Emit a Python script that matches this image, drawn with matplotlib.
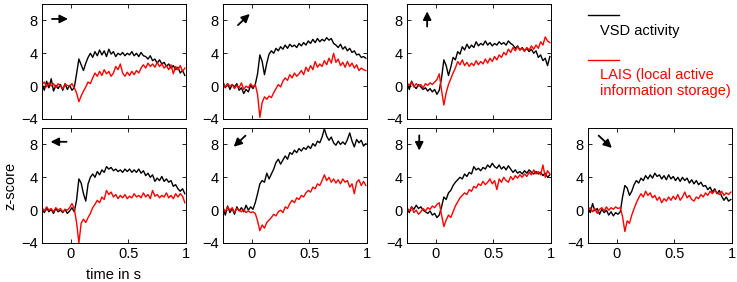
import matplotlib
matplotlib.use('Agg')
import matplotlib.pyplot as plt
import numpy as np

plt.rcParams['font.family'] = ['Liberation Sans', 'DejaVu Sans']
plt.rcParams['font.size'] = 10.5

# time grid in s, one sample every 20 ms
time_s = np.round(np.arange(-0.25, 1.0, 0.02), 2)

# z-scores per direction: VSD activity (black) and LAIS (red)
vsd_right = [0.3, -0.5, 0.6, -0.2, 0.9, -0.6, 0.1, -0.3, 0.2, -0.5, 0.3, -0.4, 0.1, -0.5, -0.2,
             1.5, 3.3, 2.6, 1.9, 2.8, 3.5, 4.0, 3.5, 4.2, 3.7, 4.4, 3.8, 4.3, 3.6, 4.5, 3.9, 4.2,
             3.6, 4.0, 3.8, 4.1, 3.7, 4.0, 3.8, 4.2, 3.7, 4.0, 3.6, 4.1, 3.7, 3.6, 3.3, 3.7,
             3.1, 3.3, 2.8, 3.2, 2.7, 2.9, 2.4, 2.7, 2.2, 2.5, 2.0, 2.3, 1.6, 1.9, 1.3]
lais_right = [0.2, 0.5, -0.1, 0.4, 0.0, 0.3, -0.2, 0.3, 0.0, -0.3, 0.2, 0.1, 0.0, 0.3, -0.2,
              -0.8, -1.9, -1.2, -0.6, -0.1, 0.5, 0.3, 1.0, 1.6, 1.2, 1.8, 1.3, 2.0, 1.5, 1.8, 1.2, 1.6,
              2.4, 2.0, 2.7, 1.6, 1.2, 1.7, 1.3, 1.8, 1.4, 1.9, 1.6, 2.2, 2.6, 2.2, 2.8, 2.4,
              2.7, 2.3, 2.9, 2.4, 2.7, 2.2, 2.5, 2.0, 2.6, 1.5, 2.4, 2.0, 2.5, 1.8, 2.2]

vsd_upright = [0.5, -0.2, 0.3, -0.4, 0.2, -0.1, 0.3, -0.5, -0.2, -0.9, -0.4, -0.7, 0.1, -0.3, 0.2,
               1.5, 3.8, 3.0, 1.4, 2.8, 3.9, 4.3, 4.0, 4.6, 4.3, 4.8, 4.5, 5.0, 4.6, 5.1, 4.8, 5.0,
               4.7, 5.2, 4.9, 5.3, 5.0, 5.5, 5.2, 5.7, 5.3, 5.8, 5.4, 5.7, 5.5, 5.9, 5.6, 5.8,
               5.2, 5.0, 4.7, 5.1, 4.5, 4.8, 4.3, 4.6, 4.1, 4.3, 3.8, 3.9, 3.5, 3.6, 3.4]
lais_upright = [0.2, -0.1, 0.3, 0.0, 0.2, -0.3, 0.1, -0.2, 0.4, -0.4, 0.0, -0.2, 0.3, -0.1, 0.2,
                -1.0, -3.8, -2.0, -1.3, -1.6, -1.2, -1.4, -0.8, -0.3, 0.2, -0.1, 0.6, 1.0, 0.7, 1.4, 1.0, 1.6,
                1.2, 1.5, 1.9, 1.4, 2.3, 1.8, 2.5, 2.0, 3.0, 2.3, 2.7, 2.4, 3.1, 2.6, 3.4, 2.8,
                4.0, 2.9, 3.3, 2.5, 2.9, 2.3, 3.0, 2.4, 2.8, 2.2, 2.6, 1.9, 2.2, 2.0, 1.9]

vsd_up = [0.3, -0.4, 0.6, 0.0, -0.3, 0.2, -0.1, -0.4, -0.2, -0.6, -0.3, -0.7, -0.4, -1.0, -0.5,
          1.0, 3.2, 2.5, 1.3, 2.3, 3.5, 3.2, 4.2, 3.9, 4.8, 4.4, 5.1, 4.6, 5.0, 4.7, 5.4, 4.9,
          5.2, 5.0, 5.5, 5.0, 5.3, 4.9, 5.2, 5.0, 5.4, 5.1, 5.3, 5.0, 5.5, 5.2, 5.0, 4.6,
          4.9, 4.4, 4.7, 4.3, 4.6, 4.2, 4.5, 4.0, 4.3, 3.5, 3.8, 3.1, 3.4, 2.5, 3.6]
lais_up = [0.4, 0.1, 0.5, -0.1, 0.3, 0.0, 0.2, -0.2, 0.3, 0.1, 0.4, 0.2, 0.5, 0.8, 1.5,
           -0.5, -2.3, -0.8, 0.2, 0.9, 1.6, 2.2, 3.0, 2.6, 3.2, 2.5, 2.9, 2.4, 2.8, 2.5, 3.1, 2.6,
           3.0, 2.7, 3.3, 2.8, 3.4, 3.0, 3.6, 3.2, 3.8, 3.5, 4.1, 3.8, 4.5, 4.1, 4.7, 4.3,
           4.8, 4.4, 4.6, 4.2, 4.7, 4.4, 4.9, 4.5, 5.0, 4.6, 5.4, 5.0, 6.0, 5.5, 5.3]

vsd_left = [0.2, -0.3, 0.3, -0.2, 0.1, -0.4, 0.2, -0.2, 0.0, -0.3, 0.1, -0.4, -0.1, 0.3, -0.2,
            1.2, 3.8, 3.3, 2.0, 1.1, 3.2, 4.0, 4.4, 4.0, 4.7, 4.3, 4.9, 4.6, 5.3, 5.0, 5.2, 4.8,
            5.0, 4.7, 4.9, 4.6, 5.0, 4.7, 5.0, 4.6, 4.9, 4.6, 5.0, 4.5, 4.8, 4.2, 4.5, 4.0,
            4.3, 3.5, 3.9, 3.6, 4.1, 3.5, 3.8, 3.4, 3.6, 2.9, 3.1, 2.6, 2.3, 2.6, 2.0]
lais_left = [0.3, -0.1, 0.4, 0.0, 0.2, -0.2, 0.3, 0.0, 0.2, -0.2, 0.1, 0.0, 0.3, 0.8, 0.2,
             -1.5, -4.0, -1.6, -1.1, -1.5, -0.9, -0.4, 0.3, 0.7, 1.2, 0.9, 1.6, 1.3, 2.4, 1.9, 2.2, 1.6,
             1.9, 1.4, 1.8, 1.5, 1.9, 1.4, 1.7, 1.5, 2.0, 1.6, 1.8, 1.5, 2.1, 1.6, 1.9, 1.4,
             2.4, 1.7, 1.9, 1.5, 1.8, 1.6, 2.1, 1.5, 1.8, 1.4, 2.0, 1.6, 2.0, 1.7, 0.9]

vsd_downleft = [0.3, -0.6, 0.5, -0.3, 0.2, -0.5, 0.4, -0.1, 0.3, -0.2, 0.6, 0.0, 0.4, 0.1, 0.9,
                2.0, 3.2, 3.6, 3.4, 4.5, 3.8, 4.4, 5.0, 5.8, 6.2, 5.6, 6.1, 6.6, 6.2, 7.0, 6.8, 7.3,
                7.0, 7.5, 7.2, 7.6, 7.4, 7.8, 7.5, 8.1, 7.8, 8.4, 8.2, 8.9, 9.9, 9.0, 8.5, 8.9,
                8.2, 7.9, 8.4, 8.0, 8.3, 8.0, 8.6, 9.4, 8.4, 7.7, 8.6, 8.2, 8.5, 7.8, 8.1]
lais_downleft = [0.3, -0.2, 0.4, 0.0, 0.3, -0.3, 0.2, 0.0, -0.2, 0.1, -0.3, -0.1, -0.3, -0.2, -0.4,
                 -1.3, -2.5, -1.8, -2.2, -1.5, -1.2, -0.9, -0.5, -0.7, -0.2, 0.0, -0.3, 0.4, 0.2, 0.8, 1.2, 0.9,
                 1.5, 1.3, 1.8, 1.6, 2.1, 2.4, 2.2, 2.8, 2.6, 3.2, 3.0, 3.6, 4.3, 3.6, 4.0, 3.4,
                 3.8, 3.3, 3.7, 3.2, 3.8, 3.4, 3.6, 2.8, 3.2, 2.0, 3.4, 3.7, 3.0, 3.5, 3.0]

vsd_down = [0.2, -0.3, 0.4, 0.1, 0.6, 0.2, 0.4, 0.0, -0.2, -0.4, -0.1, -0.6, -0.4, -0.9, -0.6,
            0.4, 1.6, 1.3, 2.1, 2.4, 3.0, 3.4, 3.7, 4.0, 3.8, 4.4, 4.1, 4.6, 4.4, 5.3, 4.9, 5.1,
            4.8, 5.2, 5.0, 5.5, 5.2, 5.7, 5.3, 5.1, 5.5, 5.0, 5.3, 4.9, 5.4, 5.0, 4.6, 4.9,
            4.5, 4.7, 4.4, 4.8, 4.5, 4.9, 4.6, 4.4, 4.7, 4.4, 4.6, 4.2, 4.5, 4.0, 4.3]
lais_down = [0.3, -0.1, 0.4, -0.3, 0.0, -0.5, -0.2, 0.2, -0.1, 0.3, 0.1, 0.5, 0.3, 0.7, 0.9,
             -0.6, -2.0, -1.2, -0.6, -0.9, -0.2, 0.5, 1.0, 1.5, 1.8, 2.1, 1.9, 2.5, 2.3, 2.9, 2.7, 3.2,
             3.0, 3.5, 3.1, 3.4, 3.8, 3.2, 3.6, 2.5, 3.8, 3.4, 4.0, 3.6, 3.4, 4.1, 3.7, 4.2,
             3.9, 4.3, 4.0, 4.4, 4.1, 4.6, 4.3, 4.9, 4.4, 4.7, 4.3, 5.5, 4.0, 4.8, 4.4]

vsd_downright = [0.3, -0.3, 0.8, -0.1, 0.2, -0.5, 0.1, -0.3, 0.0, -0.6, -0.2, -0.7, -0.3, -0.5, -0.2,
                 1.6, 3.0, 2.7, 1.8, 2.3, 3.1, 3.6, 3.3, 3.9, 3.6, 4.2, 3.8, 4.3, 3.9, 4.5, 4.1, 4.3,
                 3.8, 4.2, 3.7, 4.3, 3.8, 4.1, 3.6, 4.0, 3.5, 4.0, 3.6, 3.9, 3.3, 3.7, 3.2, 3.6,
                 3.1, 3.4, 2.9, 3.0, 2.5, 2.8, 2.2, 2.6, 2.0, 2.4, 1.7, 1.2, 1.6, 1.1, 1.3]
lais_downright = [0.0, 0.3, -0.2, 0.2, -0.4, 0.1, 0.3, -0.1, 0.4, 0.0, 0.3, 0.1, 0.4, 0.2, 0.3,
                  -0.8, -2.6, -1.3, -1.6, -0.6, 0.2, 0.9, 1.5, 2.0, 1.6, 2.3, 1.8, 2.1, 1.5, 1.8, 1.2, 1.6,
                  0.9, 1.4, 1.1, 1.6, 1.2, 1.7, 1.3, 1.9, 1.2, 1.6, 2.2, 1.5, 1.8, 1.3, 1.1, 1.6,
                  1.4, 1.9, 1.6, 2.1, 1.8, 2.3, 2.0, 2.4, 2.1, 1.9, 2.3, 1.8, 2.1, 1.9, 2.2]

yticks = [-4, 0, 4, 8]
xticks = [0, 0.5, 1]

# (row, col, vsd, lais, arrow tail, arrow head) ; arrow in axes fraction
panels = [
    (0, 0, vsd_right, lais_right, (0.05, 0.87), (0.20, 0.87)),
    (0, 1, vsd_upright, lais_upright, (0.09, 0.80), (0.20, 0.93)),
    (0, 2, vsd_up, lais_up, (0.14, 0.78), (0.14, 0.96)),
    (1, 0, vsd_left, lais_left, (0.19, 0.88), (0.04, 0.88)),
    (1, 1, vsd_downleft, lais_downleft, (0.17, 0.95), (0.06, 0.82)),
    (1, 2, vsd_down, lais_down, (0.085, 0.96), (0.085, 0.78)),
    (1, 3, vsd_downright, lais_downright, (0.06, 0.95), (0.18, 0.81)),
]

fig = plt.figure(figsize=(7.37, 2.82), dpi=100)
lefts = [42, 223, 407, 588]
tops = [4, 128]
W, H = 737.0, 282.0

for row, col, vsd, lais, tail, head in panels:
    ax = fig.add_axes([lefts[col] / W, 1 - (tops[row] + 115) / H, 144 / W, 115 / H])
    ax.plot(time_s, vsd, color='black', lw=1.0)
    ax.plot(time_s, lais, color='red', lw=1.0)
    ax.set_xlim(-0.25, 1)
    ax.set_ylim(-4, 10)
    ax.set_yticks(yticks)
    ax.set_xticks(xticks)
    if row == 0:
        ax.set_xticklabels([])
    else:
        ax.set_xticklabels(['0', '0.5', '1'])
    ax.tick_params(direction='in', length=3, width=0.6, top=True, right=True, pad=3)
    for s in ax.spines.values():
        s.set_linewidth(0.7)
    ax.annotate('', xy=head, xytext=tail, xycoords='axes fraction',
                arrowprops=dict(arrowstyle='-|>', color='black', lw=1.3, mutation_scale=12))
    if row == 1 and col == 0:
        ax.set_xlabel('time in s', labelpad=5)
        ax.set_ylabel('z-score', labelpad=3)

# legend in the empty top-right slot
fig.add_artist(plt.Line2D([588 / W, 619 / W], [1 - 15 / H, 1 - 15 / H], color='black', lw=1.0))
fig.text(600 / W, 1 - 31 / H, 'VSD activity', color='black', va='center', ha='left')
fig.add_artist(plt.Line2D([588 / W, 619 / W], [1 - 60 / H, 1 - 60 / H], color='red', lw=1.0))
fig.text(600 / W, 1 - 83 / H, 'LAIS (local active\ninformation storage)', color='red',
         va='center', ha='left', linespacing=1.15)

fig.savefig('out.png', dpi=100)
plt.close(fig)
